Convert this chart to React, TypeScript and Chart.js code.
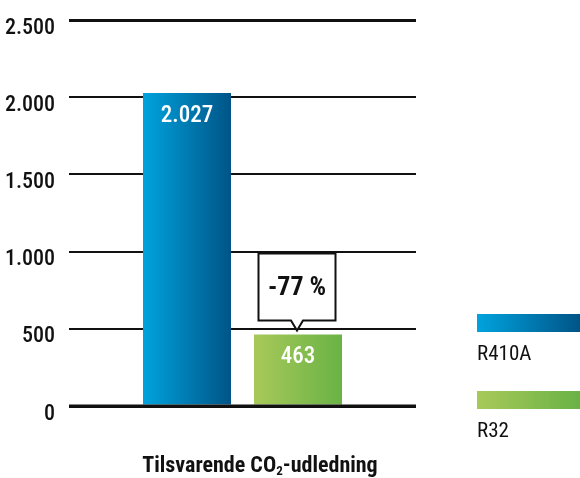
import React, { useEffect, useRef } from "react";
import { Chart, registerables } from "chart.js";

Chart.register(...registerables);

const categories = [""];
const seriesNames = ["R410A", "R32"];
const r410aValues = [2027];
const r32Values = [463];
const yTickValues = [0, 500, 1000, 1500, 2000, 2500];
const xTitle = "Tilsvarende CO₂-udledning";

const FONT = '"Roboto Condensed", "Open Sans Condensed", "DejaVu Sans Condensed", sans-serif';
const CAT_PCT = 0.6398;
const BAR_PCT = 0.7928;
const gradients = [
  ["#00a3de", "#005487"],
  ["#a8c95a", "#6ab245"],
];

const formatDa = (v: number) => String(Math.round(v)).replace(/\B(?=(\d{3})+(?!\d))/g, ".");

function barGeom(chart: any, datasetIndex: number, dataIndex: number) {
  const xs = chart.scales.x;
  const center = xs.getPixelForValue(dataIndex);
  const catW = (xs.right - xs.left) / categories.length;
  const slot = (catW * CAT_PCT) / 2;
  const bx = center + (datasetIndex - 0.5) * slot;
  const bw = slot * BAR_PCT;
  return { bx, bw };
}

function barFill(ctx: any) {
  const chart = ctx.chart;
  if (!chart.chartArea || !chart.scales.x) return gradients[ctx.datasetIndex][0];
  const { bx, bw } = barGeom(chart, ctx.datasetIndex, ctx.dataIndex || 0);
  const g = chart.ctx.createLinearGradient(bx - bw / 2, 0, bx + bw / 2, 0);
  g.addColorStop(0, gradients[ctx.datasetIndex][0]);
  g.addColorStop(1, gradients[ctx.datasetIndex][1]);
  return g;
}

const extrasPlugin = {
  id: "extras",
  afterDatasetsDraw(chart: any) {
    const c = chart.ctx as CanvasRenderingContext2D;
    const area = chart.chartArea;
    const ys = chart.scales.y;
    c.save();
    // baseline over bars
    const y0 = ys.getPixelForValue(0);
    c.strokeStyle = "#111";
    c.lineWidth = 3;
    c.beginPath();
    c.moveTo(area.left, y0);
    c.lineTo(area.right, y0);
    c.stroke();

    // value labels
    c.fillStyle = "#fff";
    c.font = `500 23px ${FONT}`;
    c.textAlign = "center";
    c.textBaseline = "middle";
    chart.data.datasets.forEach((ds: any, di: number) => {
      const meta = chart.getDatasetMeta(di);
      meta.data.forEach((el: any, i: number) => {
        c.fillText(formatDa(ds.data[i]), el.x, el.y + 23);
      });
    });

    // callout
    const base = r410aValues[0];
    const val = r32Values[0];
    const pct = Math.round(((val - base) / base) * 100);
    const el = chart.getDatasetMeta(1).data[0];
    const tipX = el.x - 1;
    const tipY = el.y - 4;
    const bw = 77, bh = 67, ph = 10, pw = 6;
    const left = tipX - bw / 2;
    const bottom = tipY - ph;
    const top = bottom - bh;
    c.beginPath();
    c.moveTo(left, top);
    c.lineTo(left + bw, top);
    c.lineTo(left + bw, bottom);
    c.lineTo(tipX + pw, bottom);
    c.lineTo(tipX, tipY);
    c.lineTo(tipX - pw, bottom);
    c.lineTo(left, bottom);
    c.closePath();
    c.fillStyle = "#fff";
    c.fill();
    c.lineWidth = 2;
    c.strokeStyle = "#111";
    c.stroke();
    c.fillStyle = "#111";
    c.font = `bold 26px ${FONT}`;
    c.fillText(`${pct} %`, tipX, top + bh / 2 + 1);

    // legend
    const lx = area.right + 61;
    seriesNames.forEach((name, i) => {
      const sy = area.bottom - 92 + i * 77;
      const g = c.createLinearGradient(lx, 0, chart.width, 0);
      g.addColorStop(0, gradients[i][0]);
      g.addColorStop(1, gradients[i][1]);
      c.fillStyle = g;
      c.fillRect(lx, sy, chart.width - lx, 18);
      c.fillStyle = "#111";
      c.font = `21px ${FONT}`;
      c.textAlign = "left";
      c.textBaseline = "alphabetic";
      c.fillText(name, lx, sy + 46);
    });

    // x title with subscript
    const [pre, post] = xTitle.split("₂");
    const tf = `bold 22px ${FONT}`;
    const sf = `bold 13px ${FONT}`;
    c.font = tf;
    const wPre = c.measureText(pre).width;
    const wPost = c.measureText(post).width;
    c.font = sf;
    const wSub = c.measureText("2").width;
    const total = wPre + wSub + wPost;
    const cx = (area.left + area.right) / 2 + 17.5;
    let x = cx - total / 2;
    const by = area.bottom + 66;
    c.fillStyle = "#111";
    c.textAlign = "left";
    c.textBaseline = "alphabetic";
    c.font = tf;
    c.fillText(pre, x, by);
    x += wPre;
    c.font = sf;
    c.fillText("2", x, by + 3);
    x += wSub;
    c.font = tf;
    c.fillText(post, x, by);
    c.restore();
  },
};

export default function App() {
  const ref = useRef<HTMLCanvasElement | null>(null);
  useEffect(() => {
    document.body.style.margin = "0";
    if (!ref.current) return;
    const chart = new Chart(ref.current, {
      type: "bar",
      data: {
        labels: categories,
        datasets: [
          { label: seriesNames[0], data: r410aValues, backgroundColor: barFill as any, categoryPercentage: CAT_PCT, barPercentage: BAR_PCT },
          { label: seriesNames[1], data: r32Values, backgroundColor: barFill as any, categoryPercentage: CAT_PCT, barPercentage: BAR_PCT },
        ],
      },
      options: {
        animation: false,
        responsive: false,
        maintainAspectRatio: false,
        layout: { padding: { left: 0, right: 164, top: 20, bottom: 72 } },
        plugins: { legend: { display: false }, tooltip: { enabled: false } },
        scales: {
          x: { display: false, offset: true },
          y: {
            min: 0,
            max: yTickValues[yTickValues.length - 1],
            afterBuildTicks: (s: any) => {
              s.ticks = yTickValues.map((v) => ({ value: v }));
            },
            afterFit: (s: any) => {
              s.width = 69;
              s.paddingTop = 0;
              s.paddingBottom = 0;
            },
            border: { display: false },
            grid: {
              drawTicks: false,
              color: "#111",
              lineWidth: (ctx: any) => (ctx.tick && (ctx.tick.value === 2500 || ctx.tick.value === 0) ? 3 : 2),
            },
            ticks: {
              padding: 14,
              labelOffset: 8,
              color: "#111",
              font: { family: FONT, size: 22, weight: "500" as any },
              callback: (v: any) => formatDa(Number(v)),
            },
          },
        },
      },
      plugins: [extrasPlugin],
    });
    return () => chart.destroy();
  }, []);
  return (
    <div style={{ width: 580, height: 478, position: "relative" }}>
      <canvas ref={ref} width={580} height={478} style={{ display: "block", width: 580, height: 478 }} />
    </div>
  );
}
